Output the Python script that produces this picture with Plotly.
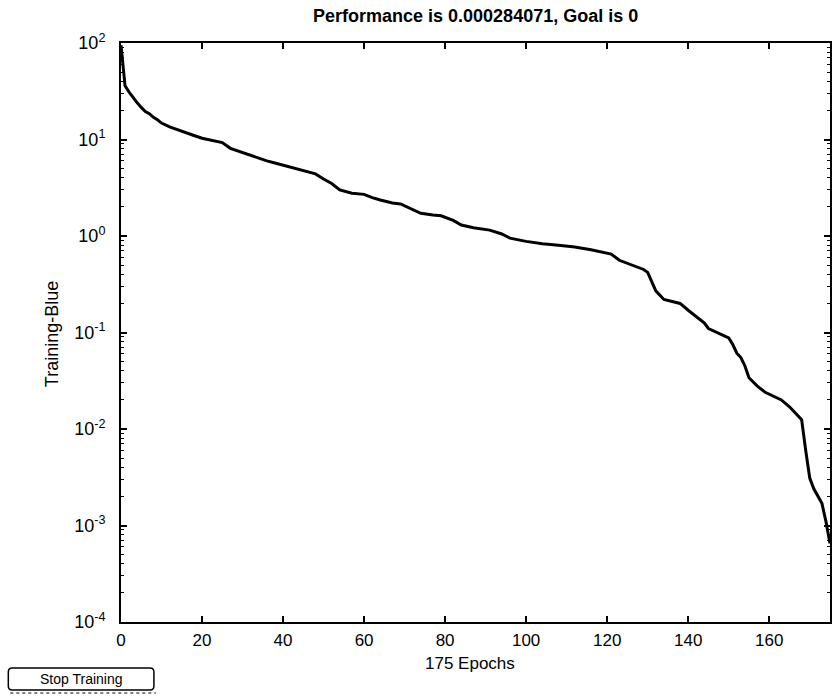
import plotly.graph_objects as go

# ---- data ----
epochs = [0, 1, 2, 3, 4, 5, 6, 7, 8, 9, 10, 12, 15, 18, 20, 23, 25, 27, 30, 33,
          36, 38, 40, 43, 46, 48, 50, 52, 54, 57, 60, 62, 64, 67, 69, 72, 74, 77,
          79, 82, 84, 87, 91, 94, 96, 100, 104, 108, 112, 116, 118, 121, 123, 125,
          127, 129, 130, 131, 132, 134, 136, 138, 140, 142, 144, 145, 148, 150,
          151, 152, 153, 154, 155, 157, 159, 161, 163, 165, 167, 168, 169, 170,
          171, 172, 173, 174, 175]
performance = [95, 36, 31, 27, 24, 21.5, 19.5, 18.5, 17, 16, 14.8, 13.5, 12.3, 11,
               10.3, 9.7, 9.3, 8.1, 7.3, 6.6, 6.0, 5.7, 5.4, 5.0, 4.6, 4.4, 3.9,
               3.5, 3.0, 2.77, 2.7, 2.5, 2.36, 2.2, 2.15, 1.9, 1.72, 1.65, 1.62,
               1.45, 1.30, 1.22, 1.15, 1.05, 0.95, 0.88, 0.83, 0.80, 0.77, 0.72,
               0.69, 0.65, 0.56, 0.52, 0.49, 0.45, 0.42, 0.33, 0.27, 0.22, 0.21,
               0.20, 0.17, 0.146, 0.125, 0.11, 0.097, 0.088, 0.075, 0.061, 0.055,
               0.045, 0.034, 0.028, 0.024, 0.022, 0.020, 0.017, 0.014, 0.0125,
               0.006, 0.0031, 0.0024, 0.002, 0.0017, 0.0011, 0.00065]

x_ticks = [0, 20, 40, 60, 80, 100, 120, 140, 160]
y_exponents = [-4, -3, -2, -1, 0, 1, 2]
y_ticks = [10.0 ** e for e in y_exponents]
y_ticktext = ["10<sup>%d</sup>" % e for e in y_exponents]
y_minor = [k * 10.0 ** e for e in y_exponents[:-1] for k in range(2, 10)]

title_text = "Performance is 0.000284071, Goal is 0"
x_title = "175 Epochs"
y_title = "Training-Blue"
button_text = "Stop Training"

FONT = "Liberation Sans, Arial, sans-serif"

fig = go.Figure()
fig.add_trace(go.Scatter(
    x=epochs, y=performance, mode="lines",
    line=dict(color="black", width=3),
    showlegend=False, hoverinfo="skip",
))

W, H = 833, 696
L, R, T, B = 121, 1, 43, 74
pw, ph = W - L - R, H - T - B


def px(xp):
    return (xp - L) / pw


def py(yp):
    return (H - B - yp) / ph


fig.update_layout(
    width=W, height=H,
    margin=dict(l=L, r=R, t=T, b=B),
    paper_bgcolor="white", plot_bgcolor="white",
    font=dict(family=FONT, color="black", size=18),
    xaxis=dict(
        range=[0, 175], tickvals=x_ticks, ticks="inside", ticklen=6,
        tickwidth=2, tickcolor="black", showline=True, linecolor="black",
        linewidth=2, mirror="ticks", showgrid=False, zeroline=False,
        tickfont=dict(size=17, family=FONT), ticklabelstandoff=2,
    ),
    yaxis=dict(
        type="log", range=[-4, 2], tickvals=y_ticks, ticktext=y_ticktext,
        ticks="inside", ticklen=6, tickwidth=2, tickcolor="black",
        showline=True, linecolor="black", linewidth=2, mirror="ticks",
        showgrid=False, zeroline=False,
        tickfont=dict(size=18, family=FONT), ticklabelstandoff=10,
        minor=dict(tickmode="array", tickvals=y_minor, ticks="inside",
                   ticklen=3, tickwidth=1, tickcolor="black", showgrid=False),
    ),
)

fig.add_annotation(text=title_text, xref="paper", yref="paper",
                   x=0.5, y=py(16), xanchor="center", yanchor="middle",
                   showarrow=False, font=dict(size=18, family=FONT, color="black",
                                              weight="bold"))
fig.add_annotation(text=x_title, xref="paper", yref="paper",
                   x=px(471), y=py(663), xanchor="center", yanchor="middle",
                   showarrow=False, font=dict(size=17, family=FONT))
fig.add_annotation(text=y_title, xref="paper", yref="paper",
                   x=px(52), y=py(334), xanchor="center", yanchor="middle",
                   textangle=-90, showarrow=False, font=dict(size=18, family=FONT))

# Stop Training button (rounded rectangle)
bx0, bx1, by0, by1, r = 8, 154, 668, 690, 4
path = (
    f"M {px(bx0 + r)},{py(by0)} L {px(bx1 - r)},{py(by0)} "
    f"Q {px(bx1)},{py(by0)} {px(bx1)},{py(by0 + r)} "
    f"L {px(bx1)},{py(by1 - r)} Q {px(bx1)},{py(by1)} {px(bx1 - r)},{py(by1)} "
    f"L {px(bx0 + r)},{py(by1)} Q {px(bx0)},{py(by1)} {px(bx0)},{py(by1 - r)} "
    f"L {px(bx0)},{py(by0 + r)} Q {px(bx0)},{py(by0)} {px(bx0 + r)},{py(by0)} Z"
)
fig.add_shape(type="path", xref="paper", yref="paper", path=path,
              line=dict(color="black", width=1.5), fillcolor="white")
fig.add_shape(type="line", xref="paper", yref="paper",
              x0=px(10), x1=px(156), y0=py(693), y1=py(693),
              line=dict(color="black", width=1, dash="dot"))
fig.add_annotation(text=button_text, xref="paper", yref="paper",
                   x=px(81), y=py(679), xanchor="center", yanchor="middle",
                   showarrow=False, font=dict(size=14, family=FONT))

fig.write_html("out.html")
